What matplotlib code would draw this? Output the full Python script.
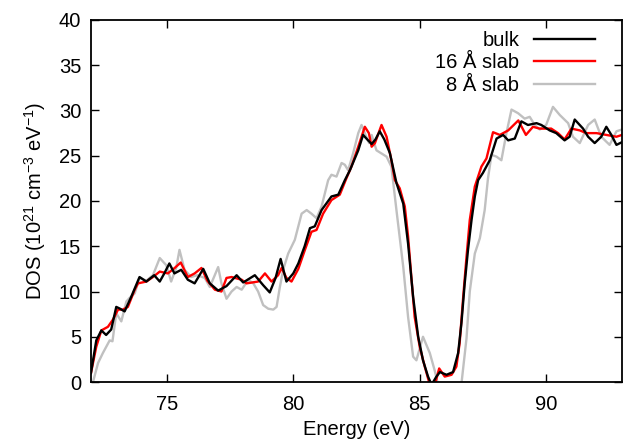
import matplotlib
matplotlib.use("Agg")
import matplotlib.pyplot as plt

bulk_e = [72.0, 72.21, 72.41, 72.6, 72.8, 73.0, 73.15, 73.33, 73.59, 73.92,
          74.19, 74.5, 74.72, 74.9, 75.1, 75.3, 75.57, 75.83, 76.1, 76.44,
          76.7, 77.03, 77.36, 77.76, 78.02, 78.48, 78.81, 79.07, 79.3, 79.5,
          79.73, 80.0, 80.2, 80.45, 80.66, 80.85, 81.12, 81.51, 81.78, 82.04,
          82.24, 82.57, 82.76, 82.96, 83.1, 83.25, 83.42, 83.6, 83.82, 84.08,
          84.35, 84.54, 84.74, 84.94, 85.13, 85.33, 85.47, 85.66, 85.8, 86.06,
          86.32, 86.52, 86.65, 86.78, 86.91, 87.05, 87.18, 87.31, 87.5, 87.77,
          88.04, 88.3, 88.5, 88.76, 89.02, 89.28, 89.62, 89.81, 90.14, 90.4,
          90.73, 90.93, 91.13, 91.46, 91.66, 91.92, 92.18, 92.38, 92.58, 92.78,
          93.0]
bulk_dos = [1.0, 4.6, 5.7, 5.2, 5.8, 8.3, 8.1, 7.8, 9.4, 11.6,
            11.1, 11.8, 11.1, 12.0, 13.1, 12.0, 12.4, 11.3, 10.9, 12.5,
            10.9, 10.1, 10.6, 11.8, 11.0, 11.8, 10.7, 9.9, 11.5, 13.6,
            11.1, 12.0, 13.1, 15.0, 17.0, 17.2, 19.0, 20.5, 20.7, 22.3,
            23.4, 25.6, 27.3, 26.7, 26.3, 26.8, 27.7, 26.8, 25.3, 22.0,
            19.7, 15.3, 9.4, 5.0, 2.4, 0.6, -0.3, 0.6, 1.1, 0.8,
            1.1, 3.2, 6.5, 10.9, 14.6, 17.9, 20.5, 22.3, 23.1, 24.5,
            26.9, 27.3, 26.7, 26.9, 28.8, 28.4, 28.6, 28.4, 27.8, 27.5,
            26.7, 27.1, 29.0, 28.0, 27.1, 26.4, 27.1, 28.2, 27.3, 26.2,
            26.5]

slab16_e = [72.0, 72.21, 72.41, 72.67, 72.87, 73.07, 73.26, 73.46, 73.73, 73.86,
            74.19, 74.45, 74.72, 75.04, 75.31, 75.55, 75.83, 76.1, 76.37, 76.6,
            76.9, 77.16, 77.36, 77.56, 77.96, 78.15, 78.61, 78.88, 79.14, 79.4,
            79.54, 79.73, 79.93, 80.2, 80.46, 80.72, 80.92, 81.18, 81.51, 81.84,
            82.1, 82.3, 82.57, 82.83, 82.99, 83.1, 83.23, 83.49, 83.69, 83.88,
            84.02, 84.21, 84.41, 84.54, 84.67, 84.8, 85.0, 85.2, 85.37, 85.6,
            85.77, 85.99, 86.26, 86.45, 86.58, 86.72, 86.85, 86.98, 87.18, 87.44,
            87.64, 87.9, 88.17, 88.5, 88.9, 89.2, 89.48, 89.74, 90.2, 90.47,
            90.73, 91.0, 91.33, 91.59, 91.99, 92.38, 92.78, 93.0]
slab16_dos = [1.0, 3.9, 5.7, 6.1, 6.9, 8.0, 8.0, 8.3, 10.2, 10.9,
              11.1, 11.6, 12.2, 12.0, 12.6, 13.2, 11.6, 12.0, 12.6, 11.2,
              10.2, 10.0, 11.5, 11.6, 11.3, 10.9, 11.1, 12.0, 11.1, 11.8,
              12.6, 11.5, 11.1, 12.5, 14.6, 16.6, 16.8, 18.6, 20.1, 20.7,
              22.5, 23.8, 26.0, 28.2, 27.5, 26.0, 26.4, 28.4, 27.1, 24.5,
              22.3, 21.4, 19.4, 16.1, 11.6, 7.2, 3.9, 1.7, 0.0, -0.3,
              1.5, 0.6, 0.8, 1.7, 4.3, 9.4, 13.8, 17.9, 21.6, 23.8,
              24.7, 27.6, 27.3, 27.8, 28.9, 27.3, 28.2, 28.0, 28.0, 27.5,
              26.8, 28.0, 27.8, 27.5, 27.5, 27.3, 27.1, 27.3]

slab8_e = [72.0, 72.08, 72.28, 72.47, 72.74, 72.85, 73.0, 73.2, 73.4, 73.53,
           73.73, 73.92, 74.19, 74.45, 74.72, 74.98, 75.17, 75.37, 75.5, 75.7,
           75.96, 76.2, 76.5, 76.7, 77.03, 77.16, 77.36, 77.56, 77.76, 77.96,
           78.22, 78.42, 78.61, 78.81, 79.01, 79.21, 79.34, 79.47, 79.6, 79.8,
           80.06, 80.33, 80.53, 80.72, 80.92, 81.12, 81.38, 81.51, 81.71, 81.91,
           82.04, 82.17, 82.37, 82.57, 82.7, 82.9, 83.0, 83.1, 83.29, 83.69,
           83.88, 84.08, 84.35, 84.54, 84.74, 84.87, 85.13, 85.4, 85.6, 85.7,
           86.2, 86.65, 86.85, 86.98, 87.18, 87.38, 87.57, 87.7, 87.84, 88.04,
           88.23, 88.43, 88.63, 88.89, 89.15, 89.35, 89.55, 89.75, 90.0, 90.27,
           90.54, 90.87, 91.06, 91.33, 91.66, 91.92, 92.18, 92.51, 92.78, 93.0]
slab8_dos = [-0.5, 0.0, 2.1, 3.2, 4.6, 4.5, 7.6, 6.7, 8.9, 9.3,
             9.8, 11.5, 11.2, 11.8, 13.7, 12.9, 11.1, 12.6, 14.6, 12.4,
             11.6, 11.8, 11.5, 10.5, 12.7, 10.9, 9.2, 10.0, 10.5, 10.2,
             11.3, 10.9, 10.0, 8.5, 8.1, 8.0, 8.3, 10.5, 12.4, 14.2,
             15.7, 18.6, 19.0, 18.6, 18.1, 19.4, 22.3, 22.9, 22.7, 24.2,
             24.0, 23.4, 25.3, 27.5, 28.4, 27.0, 26.4, 27.3, 25.6, 24.9,
             23.8, 19.0, 12.7, 7.2, 2.8, 2.4, 5.0, 3.2, 1.2, 0.0,
             -0.5, -0.2, 4.8, 10.0, 14.2, 15.9, 19.0, 22.5, 25.1, 24.9,
             24.5, 27.5, 30.1, 29.7, 29.1, 29.3, 28.4, 27.9, 28.4, 30.4,
             29.5, 28.6, 27.1, 26.4, 28.4, 29.0, 27.1, 26.2, 27.7, 27.9]

series = [
    ("bulk", bulk_e, bulk_dos, "black"),
    ("16 Å slab", slab16_e, slab16_dos, "#ff0000"),
    ("8 Å slab", slab8_e, slab8_dos, "#c0c0c0"),
]

FS = 14.5
plt.rcParams['font.family'] = ['Liberation Sans', 'DejaVu Sans']
plt.rcParams['mathtext.default'] = 'regular'
plt.rcParams['font.size'] = FS

fig = plt.figure(figsize=(6.3, 4.42), dpi=100)
ax = fig.add_axes([0.1444, 0.1357, 0.8429, 0.8191])

# draw grey first so black/red sit on top, but keep legend order
for name, e, d, c in reversed(series):
    ax.plot(e, d, color=c, lw=1.7, label=name, solid_joinstyle='round')

ax.set_xlim(72, 93)
ax.set_ylim(0, 40)
ax.set_xticks([75, 80, 85, 90])
ax.set_yticks(range(0, 41, 5))
ax.tick_params(direction='in', length=5.5, width=1.0, top=True, right=True,
               labelsize=FS, pad=7)
ax.tick_params(axis='x', pad=9)
for s in ax.spines.values():
    s.set_linewidth(1.3)

ax.set_xlabel('Energy (eV)', fontsize=FS, labelpad=5)
ax.set_ylabel('DOS (10$^{21}$ cm$^{-3}$ eV$^{-1}$)', fontsize=FS, labelpad=8)

h, l = ax.get_legend_handles_labels()
ax.legend(h[::-1], l[::-1], loc='upper right', bbox_to_anchor=(0.949, 0.97),
          frameon=False, markerfirst=False, borderpad=0, borderaxespad=0,
          handlelength=3.0, handletextpad=0.75, labelspacing=0.17,
          fontsize=FS)

fig.savefig('out.png', dpi=100)
